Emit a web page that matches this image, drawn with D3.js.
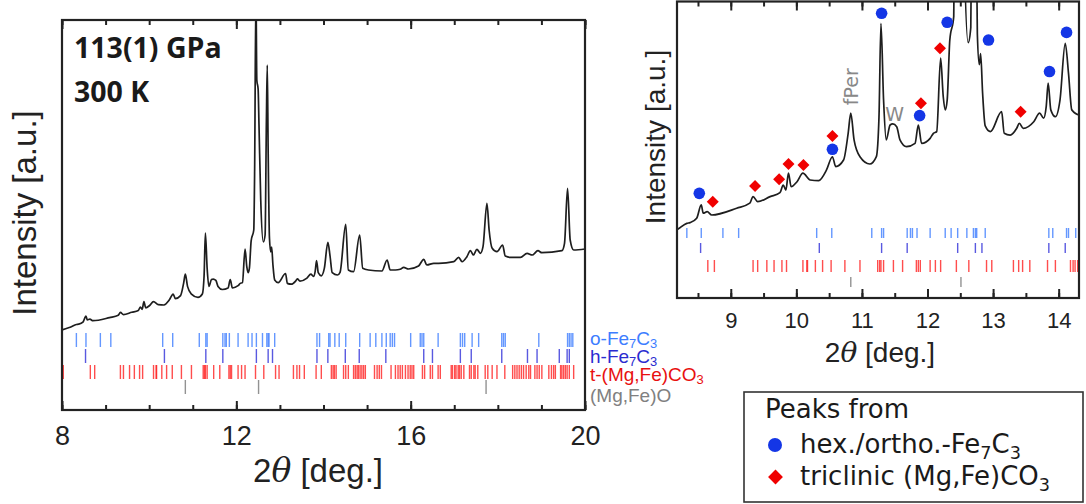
<!DOCTYPE html>
<html>
<head>
<meta charset="utf-8">
<script src="https://cdn.jsdelivr.net/npm/d3@7"></script>
<style>
  body { margin: 0; background: #fff; }
  svg { display: block; }
</style>
</head>
<body>
<svg id="chart" width="1086" height="504"></svg>
<script>
// measured pattern, 2theta [deg.] and intensity [a.u.]
var twoTheta = [8.00, 8.10, 8.19, 8.33, 8.38, 8.48, 8.55, 8.58, 8.64, 8.71, 9.09, 9.29, 9.34, 9.41, 9.60, 9.75, 9.80, 9.84, 9.88, 9.92,
	10.01, 10.10, 10.21, 10.34, 10.46, 10.55, 10.60, 10.72, 10.79, 10.83, 10.88, 10.97, 11.12, 11.22, 11.26, 11.29, 11.33, 11.37, 11.43, 11.47,
	11.53, 11.58, 11.68, 11.81, 11.86, 11.91, 12.04, 12.09, 12.14, 12.20, 12.24, 12.27, 12.30, 12.34, 12.40, 12.42, 12.45, 12.47, 12.50, 12.52,
	12.56, 12.62, 12.66, 12.69, 12.71, 12.73, 12.76, 12.79, 12.81, 12.84, 12.88, 12.96, 13.13, 13.17, 13.26, 13.36, 13.40, 13.46, 13.62, 13.71,
	13.77, 13.81, 13.84, 13.88, 13.95, 14.02, 14.10, 14.15, 14.20, 14.32, 14.38, 14.51, 14.57, 14.69, 14.83, 14.90, 15.03, 15.34, 15.46, 15.53,
	15.65, 15.76, 15.84, 15.95, 16.18, 16.30, 16.37, 16.53, 16.64, 16.99, 17.10, 17.18, 17.29, 17.37, 17.44, 17.52, 17.60, 17.66, 17.75, 17.80,
	17.87, 17.98, 18.11, 18.17, 18.29, 18.52, 18.67, 18.79, 18.92, 19.01, 19.47, 19.53, 19.60, 19.66, 19.74, 20.00];
var intensity = [80, 81.5, 82.8, 85.5, 85.8, 87.8, 93.9, 90.1, 90.8, 89.3, 92.4, 94.7, 97.7, 95.4, 97.7, 99.5, 103, 100.7, 108.4, 102.2,
	104.5, 108.4, 105.3, 105, 109.9, 115.9, 111.4, 114.4, 126.6, 135.8, 123.6, 115.9, 112.6, 116, 134, 176.8, 141.8, 123.6, 130.4, 130.9,
	129.6, 123.6, 120.5, 122, 130.4, 122, 124.3, 126.6, 127.4, 160.9, 143.3, 137.3, 141.8, 169.2, 180, 240, 420, 330, 321, 285,
	210, 168, 175, 290, 345, 260, 172, 158, 163, 145, 130, 127.4, 136.5, 126.6, 125.8, 128.9, 131.2, 128.9, 131.9, 135.8,
	133.5, 138.8, 149.5, 137.3, 134.2, 141.8, 167.7, 154, 137.3, 135, 137.7, 185.7, 140, 138.3, 175, 141.7, 140, 139, 150, 140,
	140, 140.7, 142.7, 141, 144, 150.7, 145, 146.7, 146.7, 148.3, 152.7, 148.3, 153.3, 159.3, 155, 160.7, 156.7, 163.3, 206.7, 180,
	161.7, 158.3, 165, 154, 152.7, 152.7, 156.7, 155, 159.3, 157.3, 159.3, 166.7, 221.7, 170, 160, 161];

// reflection positions of each phase
var oFe7C3 = [8.33, 8.55, 8.88, 9.12, 10.31, 10.54, 11.15, 11.30, 11.33, 11.69, 11.74, 11.77, 11.84, 12.04, 12.27, 12.36, 12.46, 12.60, 12.70, 12.73,
	12.75, 12.88, 13.85, 13.91, 14.12, 14.15, 14.26, 14.36, 14.51, 14.83, 15.07, 15.20, 15.34, 15.44, 15.53, 15.58, 15.63, 16.00, 16.22, 16.26,
	16.30, 16.63, 17.14, 17.19, 17.24, 17.41, 17.56, 18.09, 18.13, 18.17, 18.94, 19.60, 19.64, 19.68, 19.72];
var hFe7C3 = [8.54, 10.35, 11.30, 11.69, 12.46, 12.73, 12.83, 13.85, 14.10, 14.50, 14.82, 15.43, 16.30, 16.50, 17.14, 17.39, 18.09, 18.68, 18.90, 19.41,
	19.59, 19.64];
var tMgFeCO3 = [8.03, 8.65, 8.75, 9.34, 9.41, 9.55, 9.66, 9.78, 9.85, 10.10, 10.16, 10.17, 10.29, 10.40, 10.53, 10.74, 10.97, 11.24, 11.27, 11.29,
	11.33, 11.48, 11.62, 11.83, 11.86, 11.89, 12.04, 12.12, 12.20, 12.44, 12.63, 12.90, 12.98, 13.31, 13.39, 13.45, 13.56, 13.83, 13.95, 14.18,
	14.22, 14.25, 14.29, 14.46, 14.51, 14.57, 14.69, 14.73, 14.77, 14.80, 14.84, 14.88, 14.92, 14.96, 15.17, 15.23, 15.28, 15.33, 15.55, 15.65,
	15.71, 15.76, 15.81, 15.88, 15.94, 15.99, 16.03, 16.07, 16.27, 16.32, 16.45, 16.50, 16.63, 16.68, 16.93, 16.96, 17.01, 17.04, 17.09, 17.12,
	17.16, 17.22, 17.35, 17.39, 17.45, 17.48, 17.54, 17.71, 17.77, 17.87, 17.98, 18.16, 18.34, 18.39, 18.44, 18.49, 18.54, 18.59, 18.65, 18.71,
	18.75, 18.85, 18.90, 18.95, 19.01, 19.17, 19.23, 19.28, 19.32, 19.44, 19.47, 19.51, 19.55, 19.59, 19.64, 19.74];
var MgFeO = [10.83, 12.51, 17.73];

// assigned peaks (right panel)
var fe7c3PeakPos = [8.52, 10.55, 11.30, 11.88, 12.30, 12.93, 13.86, 14.12];
var fe7c3PeakInt = [99.2, 119.3, 181.4, 134.7, 177.3, 169.2, 154.8, 172.7];
var carbPeakPos = [8.725, 9.37, 9.737, 9.88, 10.108, 10.55, 11.90, 12.19, 13.42];
var carbPeakInt = [95.4, 102.6, 105.6, 112.6, 112.1, 125.4, 140.3, 165.4, 136.5];

var leftTicks = [8, 12, 16, 20];
var rightTicks = [9, 10, 11, 12, 13, 14];

var pattern = twoTheta.map(function(t, i){ return {t: t, v: intensity[i]}; });
// label pieces: [text, subscript?]
var phases = [
	{label: [["o-Fe", 0], ["7", 1], ["C", 0], ["3", 1]], pos: oFe7C3, color: "#3d7dff", text: "#3d7dff"},
	{label: [["h-Fe", 0], ["7", 1], ["C", 0], ["3", 1]], pos: hFe7C3, color: "#3030d8", text: "#2b2bd0"},
	{label: [["t-(Mg,Fe)CO", 0], ["3", 1]], pos: tMgFeCO3, color: "#ff2020", text: "#e81010"},
	{label: [["(Mg,Fe)O", 0]], pos: MgFeO, color: "#777", text: "#808080"}
];

var svg = d3.select("#chart");
var axisFont = "'Liberation Sans', Arial, sans-serif";
var noteFont = "'DejaVu Sans', Verdana, sans-serif";

function subText(sel, parts, size, drop)
{
	var shift = 0;
	sel.attr("font-size", size);
	parts.forEach(function(p){
		var target = p[1] ? size * drop : 0;
		sel.append("tspan")
			.attr("font-size", p[1] ? size * 0.68 : size)
			.attr("dy", target - shift)
			.text(p[0]);
		shift = target;
	});
}

function drawPanel(opt)
{
	var x = opt.x, y = opt.y;
	var x0 = x.range()[0], x1 = x.range()[1], yb = y.range()[0], yt = y.range()[1];
	var g = svg.append("g");

	var clipId = "clip" + opt.id;
	svg.append("clipPath").attr("id", clipId)
		.append("rect").attr("x", x0).attr("y", yt).attr("width", x1 - x0).attr("height", yb - yt);

	// reflection ticks
	opt.rows.forEach(function(r, i){
		g.append("g").attr("clip-path", "url(#" + clipId + ")")
			.selectAll("line").data(phases[i].pos).enter().append("line")
			.attr("x1", function(d){ return x(d); })
			.attr("x2", function(d){ return x(d); })
			.attr("y1", r[0]).attr("y2", r[1])
			.attr("stroke", phases[i].color)
			.attr("stroke-opacity", 0.8)
			.attr("stroke-width", 1.4);
	});

	var line = d3.line()
		.x(function(d){ return x(d.t); })
		.y(function(d){ return y(d.v); })
		.curve(d3.curveMonotoneX);
	g.append("path")
		.attr("clip-path", "url(#" + clipId + ")")
		.attr("d", line(pattern))
		.attr("fill", "none")
		.attr("stroke", "#1e1e1e")
		.attr("stroke-width", 1.7)
		.attr("stroke-linejoin", "round");

	// frame
	g.append("rect")
		.attr("x", x0).attr("y", yt)
		.attr("width", x1 - x0).attr("height", yb - yt)
		.attr("fill", "none").attr("stroke", "#222").attr("stroke-width", 2.2);

	// ticks, pointing inward
	var minor = d3.range(Math.ceil(x.domain()[0] / opt.minorStep) * opt.minorStep, x.domain()[1] + 1e-9, opt.minorStep);
	g.append("g").attr("transform", "translate(0," + yb + ")")
		.call(d3.axisBottom(x).tickValues(minor).tickSize(-5).tickFormat(""))
		.call(function(a){ a.select(".domain").remove(); });
	g.append("g").attr("transform", "translate(0," + yt + ")")
		.call(d3.axisTop(x).tickValues(minor).tickSize(-5).tickFormat(""))
		.call(function(a){ a.select(".domain").remove(); });
	g.append("g").attr("transform", "translate(0," + yt + ")")
		.call(d3.axisTop(x).tickValues(opt.ticks).tickSize(-9).tickFormat(""))
		.call(function(a){ a.select(".domain").remove(); });
	var bottom = g.append("g").attr("transform", "translate(0," + yb + ")")
		.call(d3.axisBottom(x).tickValues(opt.ticks).tickSize(-9).tickPadding(opt.pad).tickFormat(d3.format("d")));
	bottom.select(".domain").remove();
	bottom.selectAll(".tick text")
		.attr("font-family", axisFont).attr("font-size", opt.tickFont).attr("fill", "#222");
	g.selectAll(".tick line").attr("stroke", "#222").attr("stroke-width", 2);
	// empty label nodes from the unlabeled axes
	g.selectAll(".tick text").filter(function(){ return !this.textContent; }).remove();

	// axis titles
	var xt = g.append("text")
		.attr("x", opt.xTitle[0]).attr("y", opt.xTitle[1])
		.attr("text-anchor", "middle")
		.attr("font-family", axisFont).attr("font-size", opt.titleFont).attr("fill", "#222");
	xt.append("tspan").text("2");
	xt.append("tspan").attr("font-style", "italic").attr("font-family", "'DejaVu Serif', serif").text("\u03b8");
	xt.append("tspan").text(" [deg.]");

	g.append("text")
		.attr("transform", "translate(" + opt.yTitle[0] + "," + opt.yTitle[1] + ") rotate(-90)")
		.attr("text-anchor", "middle")
		.attr("font-family", axisFont).attr("font-size", opt.titleFont).attr("fill", "#222")
		.text("Intensity [a.u.]");
	return g;
}

// left panel: full pattern
var lx = d3.scaleLinear().domain([8, 20]).range([62, 585]);
var ly = d3.scaleLinear().domain([0, 390]).range([410, 20]);
var left = drawPanel({
	id: "L", x: lx, y: ly, ticks: leftTicks, minorStep: 1, pad: 16, tickFont: 27, titleFont: 33,
	rows: [[333, 347], [349, 363], [365, 379], [380, 394]],
	xTitle: [318, 482], yTitle: [36, 213]
});

left.append("text").attr("x", 74).attr("y", 58)
	.attr("font-family", "'Open Sans', sans-serif").attr("font-weight", 700).attr("font-size", 28.5).attr("fill", "#1a1a1a")
	.text("113(1) GPa");
left.append("text").attr("x", 74).attr("y", 102)
	.attr("font-family", "'Open Sans', sans-serif").attr("font-weight", 700).attr("font-size", 28.5).attr("fill", "#1a1a1a")
	.text("300 K");

var labelY = [345, 363, 381, 402];
phases.forEach(function(p, i){
	var t = left.append("text").attr("x", 590).attr("y", labelY[i])
		.attr("font-family", axisFont).attr("fill", p.text);
	subText(t, p.label, 19, 0.15);
});

// right panel: zoom on low angles
var rx = d3.scaleLinear().domain([8.18, 14.31]).range([677, 1079]);
var ry = d3.scaleLinear().domain([51.4, 186.8]).range([298, 1.5]);
var right = drawPanel({
	id: "R", x: rx, y: ry, ticks: rightTicks, minorStep: 0.5, pad: 14, tickFont: 22, titleFont: 28,
	rows: [[228, 238], [243, 253], [260, 272], [277, 287]],
	xTitle: [880, 362], yTitle: [665, 137]
});

right.append("text")
	.attr("transform", "translate(" + (rx(10.83) + 7) + "," + ry(147.9) + ") rotate(-90)")
	.attr("text-anchor", "middle")
	.attr("font-family", noteFont).attr("font-size", 19).attr("fill", "#888")
	.text("fPer");
right.append("text")
	.attr("x", rx(11.50)).attr("y", ry(135.4) + 7)
	.attr("text-anchor", "middle")
	.attr("font-family", noteFont).attr("font-size", 19).attr("fill", "#888")
	.text("W");

var diamond = d3.symbol().type(d3.symbolSquare).size(72);
right.selectAll(".circ").data(fe7c3PeakPos).enter().append("circle")
	.attr("class", "circ")
	.attr("cx", function(d){ return rx(d); })
	.attr("cy", function(d, i){ return ry(fe7c3PeakInt[i]); })
	.attr("r", 5.8)
	.attr("fill", "#1436e6");
right.selectAll(".diam").data(carbPeakPos).enter().append("path")
	.attr("class", "diam")
	.attr("d", diamond)
	.attr("transform", function(d, i){ return "translate(" + rx(d) + "," + ry(carbPeakInt[i]) + ") rotate(45)"; })
	.attr("fill", "#f00000");

// legend
var lg = svg.append("g");
lg.append("rect").attr("x", 744).attr("y", 392).attr("width", 339).attr("height", 110)
	.attr("fill", "#fff").attr("stroke", "#333").attr("stroke-width", 1.6);
lg.append("text").attr("x", 765).attr("y", 418)
	.attr("font-family", noteFont).attr("font-size", 26).attr("fill", "#1a1a1a")
	.text("Peaks from");
lg.append("circle").attr("cx", 775).attr("cy", 445).attr("r", 7).attr("fill", "#1436e6");
lg.append("path").attr("d", d3.symbol().type(d3.symbolSquare).size(110))
	.attr("transform", "translate(775.5,477) rotate(45)").attr("fill", "#f00000");
var l1 = lg.append("text").attr("x", 800).attr("y", 453)
	.attr("font-family", noteFont).attr("fill", "#1a1a1a");
subText(l1, [["hex./ortho.-Fe", 0], ["7", 1], ["C", 0], ["3", 1]], 26, 0.22);
var l2 = lg.append("text").attr("x", 800).attr("y", 485)
	.attr("font-family", noteFont).attr("fill", "#1a1a1a");
subText(l2, [["triclinic (Mg,Fe)CO", 0], ["3", 1]], 26, 0.22);
</script>
</body>
</html>
